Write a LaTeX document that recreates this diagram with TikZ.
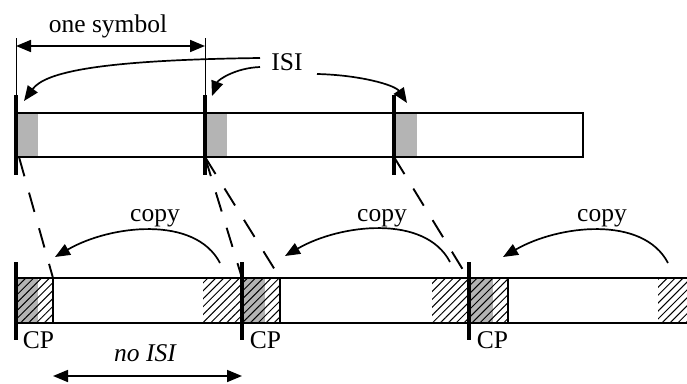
\documentclass[tikz,border=0pt]{standalone}
\usepackage{fontspec}
\setmainfont{Liberation Serif}
\usetikzlibrary{arrows.meta,patterns.meta}
\definecolor{cpgray}{RGB}{180,180,180}
\begin{document}
\begin{tikzpicture}[x=1pt,y=-1pt,line width=1.5pt,
  bar/.style={line width=4.5pt},
  thinline/.style={line width=1pt},
  arr/.style={-{Triangle[length=15pt,width=12pt]},line width=1.7pt},
  dimarr/.style={{Triangle[length=15pt,width=12pt]}-{Triangle[length=15pt,width=12pt]},line width=1.7pt},
  dashline/.style={dash pattern=on 20pt off 17pt,line width=1.9pt},
  hatch/.style={pattern={Lines[angle=45,distance=5.6pt,line width=1pt]}},
  lbl/.style={font=\fontsize{25.5}{30}\selectfont,inner sep=0pt,anchor=base},
  cplbl/.style={font=\fontsize{25.5}{30}\selectfont,inner sep=0pt,anchor=base west},
]
\useasboundingbox (0,0) rectangle (687,383);

% ---------- top row ----------
\fill[cpgray] (18,113) rectangle (38,157);
\fill[cpgray] (207,113) rectangle (227,157);
\fill[cpgray] (396,113) rectangle (417,157);
\draw (16,113) rectangle (583,157);

\coordinate (tb1t) at (16,95);  \coordinate (tb1b) at (16,175);
\coordinate (tb2t) at (205,95); \coordinate (tb2b) at (205,175);
\coordinate (tb3t) at (394,95); \coordinate (tb3b) at (394,175);
\draw[bar] (tb1t) -- (tb1b);
\draw[bar] (tb2t) -- (tb2b);
\draw[bar] (tb3t) -- (tb3b);

% one symbol dimension
\coordinate (d1) at (16,38); \coordinate (d2) at (205,38);
\draw[thinline] (d1) -- (tb1t);
\draw[thinline] (d2) -- (tb2t);
\coordinate (da) at (16,46); \coordinate (db) at (205,46);
\draw[dimarr] (da) -- (db);
\node[lbl] (onesym) at (108,32) {one symbol};

% ISI arrows
\node[lbl] (isi) at (287,70) {ISI};
\coordinate (i1s) at (260,58);  \coordinate (i1e) at (24,101);
\coordinate (i2s) at (260,67);  \coordinate (i2e) at (212,96);
\coordinate (i3s) at (317,74);  \coordinate (i3e) at (407,103);
\draw[arr] (i1s) .. controls (100,60) and (45,72) .. (i1e);
\draw[arr] (i2s) .. controls (235,68) and (218,80) .. (i2e);
\draw[arr] (i3s) .. controls (360,75) and (395,85) .. (i3e);

% ---------- bottom row ----------
\fill[cpgray] (16,278) rectangle (38,323);
\fill[cpgray] (242,278) rectangle (265,323);
\fill[cpgray] (469,278) rectangle (493,323);
\path[hatch] (16,278) rectangle (53,323);
\path[hatch] (203,278) rectangle (242,323);
\path[hatch] (242,278) rectangle (280,323);
\path[hatch] (432,278) rectangle (469,323);
\path[hatch] (469,278) rectangle (508,323);
\path[hatch] (658,278) rectangle (687,323);

\coordinate (bl1) at (16,278); \coordinate (br1) at (687,278);
\coordinate (bl2) at (16,323); \coordinate (br2) at (687,323);
\draw (bl1) -- (br1);
\draw (bl2) -- (br2);
\coordinate (ds1) at (53,278);  \coordinate (ds2) at (280,278); \coordinate (ds3) at (508,278);
\draw (ds1) -- (53,323);
\draw (ds2) -- (280,323);
\draw (ds3) -- (508,323);

\coordinate (bb1t) at (16,262);  \coordinate (bb1b) at (16,340);
\coordinate (bb2t) at (242,262); \coordinate (bb2b) at (242,340);
\coordinate (bb3t) at (469,262); \coordinate (bb3b) at (469,340);
\draw[bar] (bb1t) -- (bb1b);
\draw[bar] (bb2t) -- (bb2b);
\draw[bar] (bb3t) -- (bb3b);

\node[cplbl] (cp1) at (22,348) {CP};
\node[cplbl] (cp2) at (249,348) {CP};
\node[cplbl] (cp3) at (476,348) {CP};

% dashed mapping lines
\coordinate (m1) at (19,157); \coordinate (m2) at (205,157); \coordinate (m3) at (394,157);
\coordinate (e2) at (242,278); \coordinate (e3) at (468,278);
\draw[dashline] (m1) -- (ds1);
\draw[dashline] (m2) -- (e2);
\draw[dashline] (m2) -- (ds2);
\draw[dashline] (m3) -- (e3);

% copy arrows
\coordinate (c1s) at (220,263); \coordinate (c1e) at (55,257);
\coordinate (c2s) at (450,262); \coordinate (c2e) at (285,256);
\coordinate (c3s) at (668,263); \coordinate (c3e) at (503,257);
\draw[arr] (c1s) .. controls (195,215) and (110,225) .. (c1e);
\draw[arr] (c2s) .. controls (425,214) and (340,224) .. (c2e);
\draw[arr] (c3s) .. controls (643,215) and (558,225) .. (c3e);
\node[lbl] (copy1) at (155,221) {copy};
\node[lbl] (copy2) at (382,221) {copy};
\node[lbl] (copy3) at (602,221) {copy};

% no ISI
\node[lbl] (noisi) at (145,361) {\itshape no ISI};
\coordinate (na) at (53,376); \coordinate (nb) at (242,376);
\draw[dimarr] (na) -- (nb);
\end{tikzpicture}
\end{document}
